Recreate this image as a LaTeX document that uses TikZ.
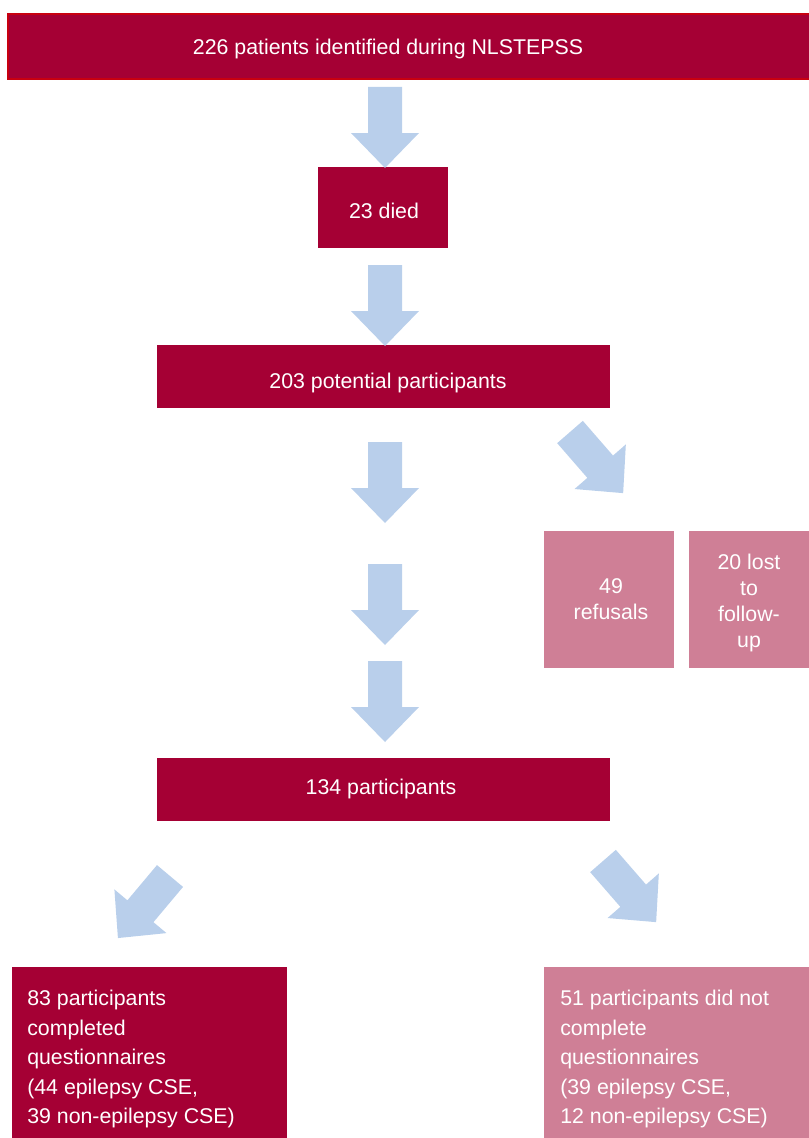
\documentclass[tikz,border=0pt]{standalone}
\usepackage{fontspec}
\setmainfont{Liberation Sans}
\definecolor{darkred}{HTML}{A50034}
\definecolor{borderred}{HTML}{C80010}
\definecolor{pinkbox}{HTML}{CF7F96}
\definecolor{arrowblue}{HTML}{B9CFEB}
\tikzset{
  barrow/.pic={\fill[arrowblue] (-17,0) -- (17,0) -- (17,46) -- (34,46) -- (0,81) -- (-34,46) -- (-17,46) -- cycle;},
  darkbox/.style={fill=darkred, draw=none, inner sep=0pt},
  pinkfill/.style={fill=pinkbox, draw=none, inner sep=0pt},
  wtext/.style={text=white, font=\fontsize{16}{19.3}\selectfont, align=center, inner sep=0pt},
  wtextl/.style={text=white, font=\fontsize{16}{22.1}\selectfont, align=left, inner sep=0pt, anchor=north west},
}
\begin{document}
\begin{tikzpicture}[x=0.75pt,y=-0.75pt]
\useasboundingbox (0,0) rectangle (809,1138);
\clip (0,0) rectangle (809,1138);
% top box
\node[darkbox, draw=borderred, line width=1.2pt, anchor=north west, minimum width={820*0.75pt}, minimum height={65*0.75pt}] (b226) at (7,13) {};
\node[wtext] (t226) at (388,49) {226 patients identified during NLSTEPSS};
% 23 died
\node[darkbox, anchor=north west, minimum width={130*0.75pt}, minimum height={81*0.75pt}] (b23) at (318,167) {};
\node[wtext] (t23) at (384,211) {23 died};
% 203 potential participants
\node[darkbox, anchor=north west, minimum width={453*0.75pt}, minimum height={63*0.75pt}] (b203) at (157,345) {};
\node[wtext] (t203) at (388,383) {203 potential participants};
% refusals / lost
\node[pinkfill, anchor=north west, minimum width={130*0.75pt}, minimum height={137*0.75pt}] (b49) at (544,531) {};
\node[wtext] (t49) at (611,599) {49\\refusals};
\node[pinkfill, anchor=north west, minimum width={130*0.75pt}, minimum height={137*0.75pt}] (b20) at (689,531) {};
\node[wtext] (t20) at (749,603) {20 lost\\to\\follow-\\up};
% 134 participants
\node[darkbox, anchor=north west, minimum width={453*0.75pt}, minimum height={63*0.75pt}] (b134) at (157,758) {};
\node[wtext] (t134) at (381,789) {134 participants};
% bottom boxes
\node[darkbox, anchor=north west, minimum width={275*0.75pt}, minimum height={190*0.75pt}] (b83) at (12,967) {};
\node[wtextl] (t83) at (27,990) {83 participants\\completed\\questionnaires\\(44 epilepsy CSE,\\39 non-epilepsy CSE)};
\node[pinkfill, anchor=north west, minimum width={280*0.75pt}, minimum height={190*0.75pt}] (b51) at (544,967) {};
\node[wtextl] (t51) at (560,990) {51 participants did not\\complete\\questionnaires\\(39 epilepsy CSE,\\12 non-epilepsy CSE)};
% arrows
\pic at (385,87) {barrow};
\pic at (385,265) {barrow};
\pic at (385,442) {barrow};
\pic at (385,564) {barrow};
\pic at (385,661) {barrow};
\pic[rotate=41] at (570,432) {barrow};
\pic[rotate=-40] at (170,876) {barrow};
\pic[rotate=41] at (603,861) {barrow};
\end{tikzpicture}
\end{document}
